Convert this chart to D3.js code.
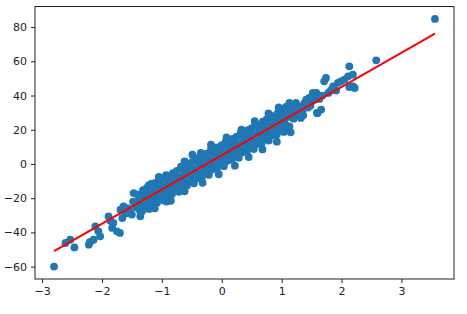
<!DOCTYPE html>
<html>
<head>
<meta charset="utf-8">
<script src="https://cdn.jsdelivr.net/npm/d3@7"></script>
<style>
  body { margin: 0; background: #fff; }
  .tick text { font-family: 'DejaVu Sans', sans-serif; font-size: 11px; fill: #222; }
  .tick line { stroke: #222; }
</style>
</head>
<body>
<svg id="chart" width="467" height="314"></svg>
<script>
// scatter values
var xValues = [
  -2.80,-2.61,-2.53,-2.46,-2.22,-2.20,-2.14,-2.11,-2.06,-2.03,-1.89,-1.83,-1.86,-1.81,-1.75,-1.70,
  -1.69,-1.64,-1.66,-1.58,-1.53,-1.47,-1.44,-1.50,-1.36,-1.48,-1.42,-1.56,-1.61,
  -1.27,-1.11,-0.94,-0.77,-0.49,-0.18,-0.85,
  -1.40,-1.38,-1.39,-1.365, -1.35,-1.33,-1.34,-1.315, -1.30,-1.28,-1.29,-1.265, -1.25,-1.23,-1.24,-1.215,
  -1.20,-1.18,-1.19,-1.165, -1.15,-1.13,-1.14,-1.115, -1.10,-1.08,-1.09,-1.065, -1.05,-1.03,-1.04,-1.015,
  -1.00,-0.98,-0.99,-0.965, -0.95,-0.93,-0.94,-0.915, -0.90,-0.88,-0.89,-0.865, -0.85,-0.83,-0.84,-0.815,
  -0.80,-0.78,-0.79,-0.765, -0.75,-0.73,-0.74,-0.715, -0.70,-0.68,-0.69,-0.665, -0.65,-0.63,-0.64,-0.615,
  -0.60,-0.58,-0.59,-0.565, -0.55,-0.53,-0.54,-0.515, -0.50,-0.48,-0.49,-0.465, -0.45,-0.43,-0.44,-0.415,
  -0.40,-0.38,-0.39,-0.365, -0.35,-0.33,-0.34,-0.315, -0.30,-0.28,-0.29,-0.265, -0.25,-0.23,-0.24,-0.215,
  -0.20,-0.18,-0.19,-0.165, -0.15,-0.13,-0.14,-0.115, -0.10,-0.08,-0.09,-0.065, -0.05,-0.03,-0.04,-0.015,
  0.00,0.02,0.01,0.035, 0.05,0.07,0.06,0.085, 0.10,0.12,0.11,0.135, 0.15,0.17,0.16,0.185,
  0.20,0.22,0.21,0.235, 0.25,0.27,0.26,0.285, 0.30,0.32,0.31,0.335, 0.35,0.37,0.36,0.385,
  0.40,0.42,0.41,0.435, 0.45,0.47,0.46,0.485, 0.50,0.52,0.51,0.535, 0.55,0.57,0.56,0.585,
  0.60,0.62,0.61,0.635, 0.65,0.67,0.66,0.685, 0.70,0.72,0.71,0.735, 0.75,0.77,0.76,0.785,
  0.80,0.82,0.81,0.835, 0.85,0.87,0.86,0.885, 0.90,0.92,0.91,0.935, 0.95,0.97,0.96,0.985,
  1.00,1.02,1.01,1.035, 1.05,1.07,1.06,1.085,
  1.07,1.13,1.13,1.24,1.30,1.32,1.41,1.46,1.52,1.58,1.60,1.66,1.71,1.74,1.86,1.94,1.99,2.05,2.11,
  2.13,2.19,2.13,2.22,2.58,3.56,1.32,1.59,1.91,2.19,1.10,1.15,1.18,1.20,1.22,1.27,1.35,1.38,1.44,
  1.50,1.55,1.63,1.68,1.78,1.82,1.12,1.25,1.28,1.36,1.40,1.48,1.53,
  -1.22,-1.05,-0.62,-0.35,-0.12,0.08,0.33,0.55,0.78,0.95,
  -1.12,-0.92,-0.62,-0.32,-0.05,0.22,0.45,0.68,0.92,1.15
];
var yValues = [
  -60.0,-46.2,-44.3,-48.8,-47.2,-45.6,-44.3,-36.5,-39.4,-42.3,-30.6,-37.4,-33.2,-34.5,-39.4,-40.3,
  -26.7,-24.8,-31.6,-28.7,-27.7,-17.0,-23.8,-29.6,-30.6,-22.0,-25.5,-26.0,-29.0,
  -15.0,-11.1,-8.2,-5.3,5.4,11.3,-21.5,
  -18,-24.6,-21.8,-27.3, -19,-27.6,-21.8,-15.3, -24,-16.6,-21.8,-18.3, -14,-23.6,-17.8,-26.3,
  -19,-11.6,-21.8,-23.3, -13,-19.6,-16.8,-22.3, -14,-22.6,-16.8,-10.3, -19,-11.6,-16.8,-13.3,
  -9,-18.6,-12.8,-21.3, -14,-6.6,-16.8,-18.3, -8,-14.6,-11.8,-17.3, -9,-17.6,-11.8,-5.3,
  -14,-6.6,-11.8,-8.3, -4,-13.6,-7.8,-16.3, -9,-1.6,-11.8,-13.3, -3,-9.6,-6.8,-12.3,
  -4,-12.6,-6.8,-0.3, -9,-1.6,-6.8,-3.3, 1,-8.6,-2.8,-11.3, -4,3.4,-6.8,-8.3,
  2,-4.6,-1.8,-7.3, 1,-7.6,-1.8,4.7, -4,3.4,-1.8,1.7, 6,-3.6,2.2,-6.3,
  1,8.4,-1.8,-3.3, 7,0.4,3.2,-2.3, 6,-2.6,3.2,9.7, 1,8.4,3.2,6.7,
  11,1.4,7.2,-1.3, 6,13.4,3.2,1.7, 12,5.4,8.2,2.7, 11,2.4,8.2,14.7,
  6,13.4,8.2,11.7, 16,6.4,12.2,3.7, 11,18.4,8.2,6.7, 17,10.4,13.2,7.7,
  16,7.4,13.2,19.7, 11,18.4,13.2,16.7, 21,11.4,17.2,8.7, 16,23.4,13.2,11.7,
  22,15.4,18.2,12.7, 21,12.4,18.2,24.7, 16,23.4,18.2,21.7, 26,16.4,22.2,13.7,
  21,28.4,18.2,16.7, 27,20.4,23.2,17.7, 26,17.4,23.2,29.7, 21,28.4,23.2,26.7,
  31,21.4,27.2,18.7, 26,33.4,23.2,21.7,
  28.8,35.7,22.0,35.7,32.7,26.9,37.6,38.6,41.5,41.5,29.8,31.8,48.3,50.3,45.4,47.4,48.3,49.3,51.2,
  57.1,45.4,45.0,44.4,60.6,84.8,29.8,29.8,43.0,52.2,30.0,27.5,33.0,26.5,31.0,34.0,31.5,35.5,33.0,
  36.5,37.5,38.0,40.0,41.5,43.0,31.5,29.0,33.0,28.5,34.5,34.0,39.0,
  -12.5,-7.5,1.5,6.5,9.5,15.5,20.0,25.0,29.5,33.0,
  -26.0,-22.0,-16.0,-11.0,-6.0,-1.0,4.0,8.5,13.0,18.5
];
// fitted line end points
var fitX = [-2.80, 3.56];
var fitY = [-51.0, 76.2];
var xTicks = [-3, -2, -1, 0, 1, 2, 3];
var yTicks = [-60, -40, -20, 0, 20, 40, 60, 80];

var svg = d3.select('#chart');
var plot = {l: 35, t: 6.5, r: 454, b: 279};

var points = xValues.map(function(d, i){ return {x: d, y: yValues[i]}; });

// matplotlib style 5% margins around the data
var xExt = d3.extent(xValues), yExt = d3.extent(yValues);
var xPad = (xExt[1] - xExt[0]) * 0.05, yPad = (yExt[1] - yExt[0]) * 0.05;

var xScale = d3.scaleLinear()
    .domain([xExt[0] - xPad, xExt[1] + xPad])
    .range([plot.l, plot.r]);
var yScale = d3.scaleLinear()
    .domain([yExt[0] - yPad, yExt[1] + yPad])
    .range([plot.b, plot.t]);

svg.append('g')
    .attr('class', 'points')
    .selectAll('circle')
    .data(points)
    .enter()
    .append('circle')
    .attr('cx', function(d){ return xScale(d.x); })
    .attr('cy', function(d){ return yScale(d.y); })
    .attr('r', 3.9)
    .attr('fill', '#1f77b4');

svg.append('line')
    .attr('x1', xScale(fitX[0]))
    .attr('y1', yScale(fitY[0]))
    .attr('x2', xScale(fitX[1]))
    .attr('y2', yScale(fitY[1]))
    .attr('stroke', '#ff0000')
    .attr('stroke-width', 2);

// axes frame
svg.append('rect')
    .attr('x', plot.l)
    .attr('y', plot.t)
    .attr('width', plot.r - plot.l)
    .attr('height', plot.b - plot.t)
    .attr('fill', 'none')
    .attr('stroke', '#222')
    .attr('stroke-width', 1);

var xAxis = svg.append('g')
    .attr('transform', 'translate(0,' + plot.b + ')')
    .call(d3.axisBottom(xScale).tickValues(xTicks).tickSize(4).tickPadding(4).tickFormat(d3.format('d')));
xAxis.select('.domain').remove();

var yAxis = svg.append('g')
    .attr('transform', 'translate(' + plot.l + ',0)')
    .call(d3.axisLeft(yScale).tickValues(yTicks).tickSize(4).tickPadding(4).tickFormat(d3.format('d')));
yAxis.select('.domain').remove();
</script>
</body>
</html>
